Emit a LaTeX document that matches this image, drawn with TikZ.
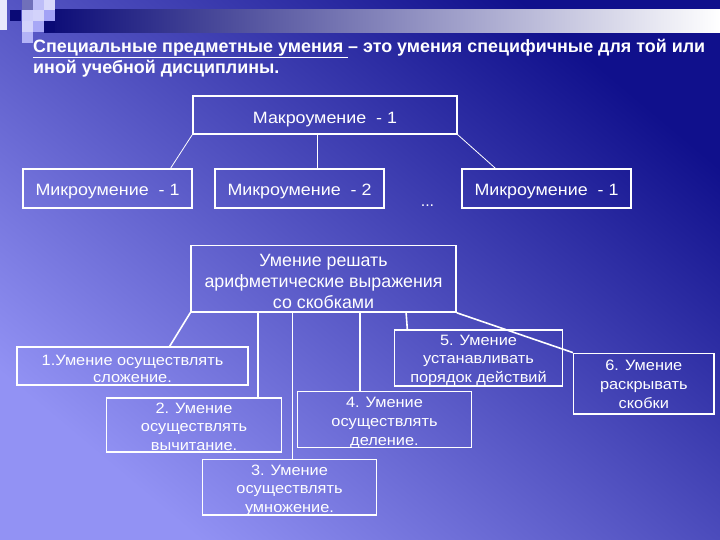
\documentclass[tikz,border=0pt]{standalone}
\usepackage{fontspec}
\setmainfont{Liberation Sans}
\newfontfamily\widefont[FakeStretch=1.09]{Liberation Sans}
\usetikzlibrary{calc}

\definecolor{slidedark}{RGB}{16,16,140}
\definecolor{slidelight}{RGB}{146,146,244}
\definecolor{barnavy}{RGB}{10,10,118}

\begin{document}
\begin{tikzpicture}[x=1pt,y=-1pt]
      \useasboundingbox (0,0) rectangle (720,540);
      % background of the slide
      \shade[top color=slidedark,bottom color=slidelight,shading angle=-40] (0,0) rectangle (720,540);
      \shade[left color=barnavy,right color=white] (44,10) rectangle (720,33);
      \fill[white!80!slidelight] (0,0) rectangle (7,30);
      \fill[barnavy] (10,10) rectangle (21,21);
      \fill[slidedark!60!white] (22,0) rectangle (33,10);
      \fill[slidelight!60!white] (33,0) rectangle (44,10);
      \fill[slidelight!35!white] (44,0) rectangle (55,10);
      \fill[slidelight!45!white] (22,10) rectangle (33,21);
      \fill[slidelight!40!white] (33,10) rectangle (44,21);
      \fill[slidelight!85!white] (44,10) rectangle (55,21);
      \fill[slidelight!40!white] (22,21) rectangle (33,32);
      \fill[slidelight!80!white] (33,21) rectangle (44,32);
      \fill[barnavy] (44,21) rectangle (55,32);
      \fill[slidelight!70!white] (22,32) rectangle (33,43);
      \node[anchor=north west,align=left,inner sep=0,text=white,
            font=\bfseries\fontsize{17.9}{21}\selectfont] (title) at (33,39)
            {\underline{Специальные предметные умения\ }– это умения специфичные для той или\\
             иной учебной дисциплины.};
      \begin{scope}
        \begin{scope}[every node/.style={draw=white,line width=1.5pt,text=white,inner sep=0,
                      minimum height=39pt,text height=15pt,text depth=0pt,
                      font=\widefont\fontsize{16.4}{19}\selectfont}]
          \node[minimum width=264pt,minimum height=38pt,text height=16.6pt] (macro) at (325,115) {Макроумение\ \ - 1};
          \node[minimum width=169pt] (micro1) at (107.5,188.5) {Микроумение\ \ - 1};
          \node[minimum width=169pt] (micro2) at (299.5,188.5) {Микроумение\ \ - 2};
          \node[minimum width=169pt] (micro3) at (546.5,188.5) {Микроумение\ \ - 1};
        \end{scope}
        \node[anchor=base,inner sep=0,text=white,font=\fontsize{16}{19}\selectfont] (dots) at (427.5,206.7) {...};
        \coordinate (top) at ($(macro.south west)!.47!(macro.south east)$);
        \begin{scope}[every edge/.style={draw=white,line width=0.8pt}]
          \path (macro.south west) edge ($(micro1.north west)!.87!(micro1.north east)$)
                (top) edge (top |- micro2.north)
                (macro.south east) edge ($(micro3.north west)!.2!(micro3.north east)$);
        \end{scope}
      \end{scope}
      \begin{scope}
        \begin{scope}[every node/.style={draw=white,line width=1.5pt,text=white,inner sep=0,
                      align=center,text depth=0pt,font=\widefont\fontsize{15}{18.8}\selectfont}]
          \node[minimum width=265pt,minimum height=66.5pt,text height=59pt,font=\fontsize{17.8}{21}\selectfont]
                (skill) at (323.5,278.8) {Умение решать\\арифметические выражения\\со скобками};
          \node[minimum width=231pt,minimum height=38pt,text height=33.4pt,font=\widefont\fontsize{15}{17.7}\selectfont]
                (add) at (132.5,366) {1.Умение осуществлять\\сложение.};
          \node[minimum width=175pt,minimum height=54pt,text height=51.4pt] (sub) at (194,425) {2. Умение\\осуществлять\\вычитание.};
          \node[minimum width=174.4pt,minimum height=55.7pt,text height=51pt] (mul) at (289.5,487.2) {3. Умение\\осуществлять\\умножение.};
          \node[minimum width=174.4pt,minimum height=56pt,text height=50.6pt] (div) at (384.5,419.7) {4. Умение\\осуществлять\\деление.};
          \node[minimum width=168.4pt,minimum height=56pt,text height=49.4pt] (order) at (478.5,358) {5. Умение\\устанавливать\\порядок действий};
          \node[minimum width=140.3pt,minimum height=60.7pt,text height=49.2pt] (open) at (643.8,383.7) {6. Умение\\раскрывать\\скобки};
        \end{scope}
        \coordinate (s2) at ($(skill.south west)!.255!(skill.south east)$);
        \coordinate (s3) at ($(skill.south west)!.383!(skill.south east)$);
        \coordinate (s4) at ($(skill.south west)!.637!(skill.south east)$);
        \coordinate (s5) at ($(skill.south west)!.81!(skill.south east)$);
        \begin{scope}[every edge/.style={draw=white,line width=1.6pt}]
          \path (skill.south west) edge ($(add.north west)!.66!(add.north east)$)
                (s2) edge (s2 |- sub.north)
                (s3) edge (s3 |- mul.north)
                (s4) edge (s4 |- div.north)
                (s5) edge ($(order.north west)!.081!(order.north east)$)
                (skill.south east) edge (open.north west);
        \end{scope}
      \end{scope}
    \end{tikzpicture}
\end{document}
